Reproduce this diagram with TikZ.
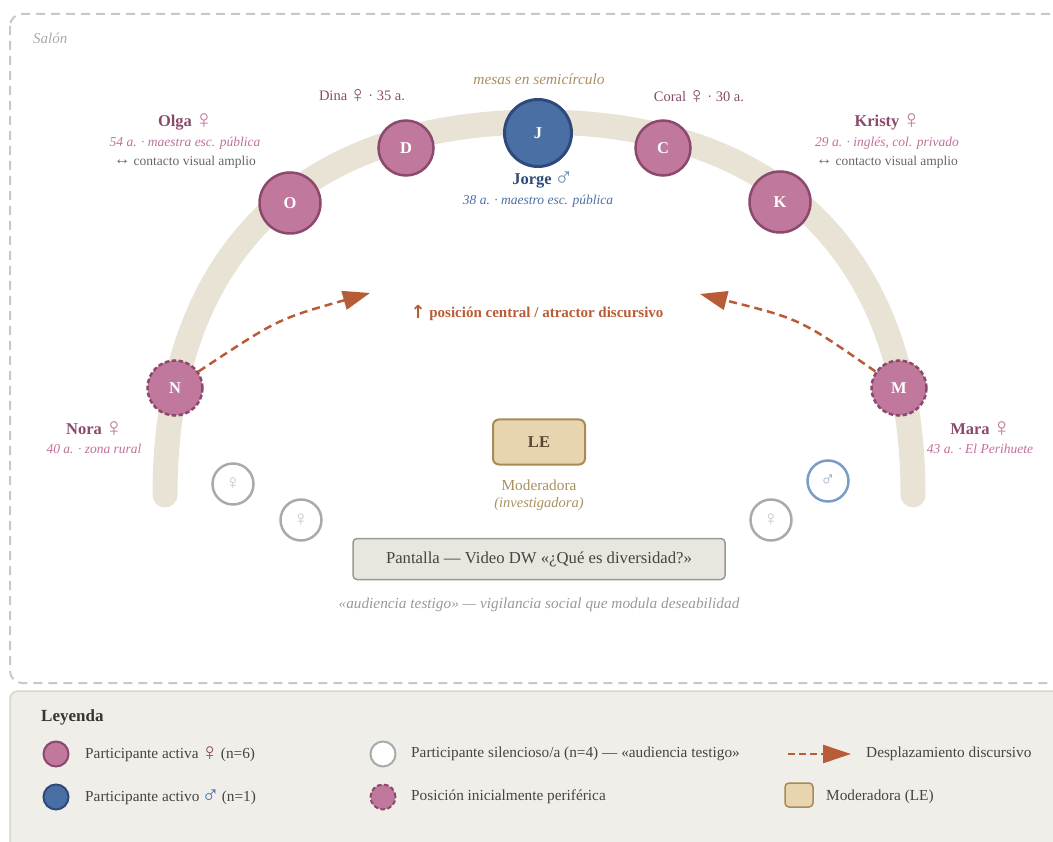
\documentclass[tikz,border=0pt]{standalone}
\usepackage{fontspec}
\setmainfont{Liberation Serif}
\newfontfamily\symf{DejaVu Sans}
\usetikzlibrary{arrows.meta}
\definecolor{pinkF}{HTML}{C0789C}
\definecolor{pinkD}{HTML}{8B4A6B}
\definecolor{pinkT}{HTML}{C0709A}
\definecolor{blueF}{HTML}{4A6FA5}
\definecolor{blueD}{HTML}{2E4A7A}
\definecolor{blueT}{HTML}{4A6FA5}
\definecolor{bandC}{HTML}{E8E3D4}
\definecolor{tanT}{HTML}{A89060}
\definecolor{tanF}{HTML}{E8D5B0}
\definecolor{tanD}{HTML}{A88A55}
\definecolor{leT}{HTML}{5A4630}
\definecolor{orangeC}{HTML}{B85C38}
\definecolor{silG}{HTML}{AAAAAA}
\definecolor{silB}{HTML}{7A9CC6}
\definecolor{frameC}{HTML}{C8C8C8}
\definecolor{legBg}{HTML}{F0EEE9}
\definecolor{legLn}{HTML}{D8D5CC}
\definecolor{grayT}{HTML}{666666}
\definecolor{grayL}{HTML}{999999}
\definecolor{scrF}{HTML}{E8E6DF}
\definecolor{darkT}{HTML}{444444}
\newcommand{\symFem}{{\mdseries\upshape\kern-0.12em\raisebox{-0.3ex}{\scalebox{1.6}{♀}}\kern-0.12em}}
\newcommand{\symMal}{{\mdseries\upshape\kern-0.12em\raisebox{-0.3ex}{\scalebox{1.6}{♂}}\kern-0.12em}}
\newcommand{\symLR}{{\raisebox{0.05ex}{\scalebox{1.2}{↔}}}}
\newcommand{\symUp}{{\raisebox{-0.1ex}{\scalebox{1.2}{\symf\bfseries ↑}}}}
\newcommand{\fs}[1]{\fontsize{#1}{#1}\selectfont}
\begin{document}
\begin{tikzpicture}[x=1pt,y=-1pt,
  act/.style={circle, draw=pinkD, fill=pinkF, line width=2.5pt, text=white, font=\fs{16.5}\bfseries, inner sep=0pt},
  actm/.style={act, draw=blueD, fill=blueF, line width=3pt},
  peri/.style={act, dash pattern=on 4.5pt off 2.5pt},
  silent/.style={circle, draw=silG, fill=white, line width=2.5pt, minimum size=41pt, inner sep=0pt, text=silG!70, font=\fs{13}},
  silentm/.style={silent, draw=silB, text=silB!80},
  nameT/.style={inner sep=0pt, font=\fs{16.5}\bfseries, text=pinkD},
  subT/.style={inner sep=0pt, font=\fs{13.5}\itshape, text=pinkT},
  contT/.style={inner sep=0pt, font=\fs{13.5}, text=grayT},
  seatT/.style={inner sep=0pt, font=\fs{14.5}, text=pinkD},
  band/.style={line width=25pt, draw=bandC, line cap=round},
  flow/.style={draw=orangeC, line width=2.5pt, dash pattern=on 8pt off 5pt, -{Triangle[length=27pt,width=19pt]}},
  legT/.style={inner sep=0pt, anchor=west, font=\fs{15.3}, text=darkT},
  legC/.style={minimum size=25pt, line width=2pt}
]
\useasboundingbox (0,0) rectangle (1053,842);

% frames
\draw[frameC, line width=2pt, dash pattern=on 9pt off 6pt, rounded corners=12pt] (10,14) rectangle (1075,683);
\draw[draw=legLn, fill=legBg, line width=1.5pt, rounded corners=8pt] (10,691) rectangle (1075,870);

\node[inner sep=0pt, anchor=west, font=\fs{15}\itshape, text=silG] (salon) at (33,38) {Salón};

% semicircle of tables
\draw[band] (165,495) .. controls (165,256) and (300,122) .. (539,122) .. controls (778,122) and (913,256) .. (913,495);
\node[inner sep=0pt, font=\fs{15.4}\itshape, text=tanT] (mesas) at (539,79) {mesas en semicírculo};

% participants
\node[peri, minimum size=55pt] (N) at (175,388) {N};
\node[act, minimum size=61pt] (O) at (290,203) {O};
\node[act, minimum size=55pt] (D) at (406,148) {D};
\node[actm, minimum size=67pt] (J) at (538,133) {J};
\node[act, minimum size=55pt] (C) at (663,148) {C};
\node[act, minimum size=61pt] (K) at (780,202) {K};
\node[peri, minimum size=55pt] (M) at (899,388) {M};

% labels
\node[seatT] (dinaL) at (362,96) {Dina \symFem\ · 35 a.};
\node[seatT] (coralL) at (699,97) {Coral \symFem\ · 30 a.};
\node[nameT] (olgaL) at (185,122) {Olga {\color{pinkF}\symFem}};
\node[subT] (olgaS) at (185,143) {54 a. · maestra esc. pública};
\node[contT] (olgaC) at (185,162) {\symLR\ contacto visual amplio};
\node[nameT] (kristyL) at (887,122) {Kristy {\color{pinkF}\symFem}};
\node[subT] (kristyS) at (887,143) {29 a. · inglés, col. privado};
\node[contT] (kristyC) at (887,162) {\symLR\ contacto visual amplio};
\node[nameT, text=blueD] (jorgeL) at (542,180) {Jorge {\color{blueT!80}\symMal}};
\node[subT, text=blueT] (jorgeS) at (538,201) {38 a. · maestro esc. pública};
\node[nameT] (noraL) at (94,429) {Nora {\color{pinkF}\symFem}};
\node[subT] (noraS) at (94,449) {40 a. · zona rural};
\node[nameT] (maraL) at (980,429) {Mara {\color{pinkF}\symFem}};
\node[subT] (maraS) at (980,449) {43 a. · El Perihuete};

\node[inner sep=0pt, font=\fs{15}\bfseries, text=orangeC] (central) at (537,313) {\symUp\ posición central / atractor discursivo};

% discursive displacement
\coordinate (tipL) at (370,293);
\coordinate (tipR) at (700,294);
\draw[flow] (N.35) .. controls (278,319) .. (tipL);
\draw[flow] (M.145) .. controls (800,319) .. (tipR);

% silent participants
\node[silent] (s1) at (233,484) {\symFem};
\node[silent] (s2) at (301,520) {\symFem};
\node[silentm] (s3) at (828,481) {\symMal};
\node[silent] (s4) at (771,520) {\symFem};

% moderator
\node[draw=tanD, fill=tanF, line width=2pt, rounded corners=6pt, minimum width=92pt, minimum height=45pt, inner sep=0pt, font=\fs{16.5}\bfseries, text=leT] (LE) at (539,442) {LE};
\node[inner sep=0pt, font=\fs{15.3}, text=tanT] (modL) at (539,485) {Moderadora};
\node[inner sep=0pt, font=\fs{14.5}\itshape, text=tanT] (modS) at (539,504) {(investigadora)};

% screen
\node[draw=grayL, fill=scrF, line width=1.5pt, rounded corners=4pt, minimum width=372pt, minimum height=41pt, inner sep=0pt, font=\fs{16.7}, text=darkT] (screen) at (539,559) {Pantalla — Video DW «¿Qué es diversidad?»};
\node[inner sep=0pt, font=\fs{15.3}\itshape, text=grayL] (aud) at (539,605) {«audiencia testigo» — vigilancia social que modula deseabilidad};

% legend
\node[inner sep=0pt, anchor=west, font=\fs{17}\bfseries, text=darkT!80!black] (leyenda) at (41,717) {Leyenda};
\node[act, legC] (lg1) at (56,754) {};
\node[legT] (lt1) at (85,754) {Participante activa {\color{pinkD}\symFem} (n=6)};
\node[actm, legC] (lg2) at (56,797) {};
\node[legT] (lt2) at (85,797) {Participante activo {\color{blueT}\symMal} (n=1)};
\node[silent, legC] (lg3) at (383,754) {};
\node[legT] (lt3) at (411,754) {Participante silencioso/a (n=4) — «audiencia testigo»};
\node[peri, legC] (lg4) at (383,797) {};
\node[legT] (lt4) at (411,797) {Posición inicialmente periférica};
\coordinate (la0) at (788,754);
\coordinate (la1) at (851,754);
\draw[flow, dash pattern=on 7pt off 4pt, -{Triangle[length=28pt,width=18pt]}] (la0) -- (la1);
\node[legT] (lt5) at (866,754) {Desplazamiento discursivo};
\node[draw=tanD, fill=tanF, line width=1.5pt, rounded corners=4pt, minimum width=28pt, minimum height=24pt, inner sep=0pt] (lg6) at (799,795) {};
\node[legT] (lt6) at (826,797) {Moderadora (LE)};
\end{tikzpicture}
\end{document}
